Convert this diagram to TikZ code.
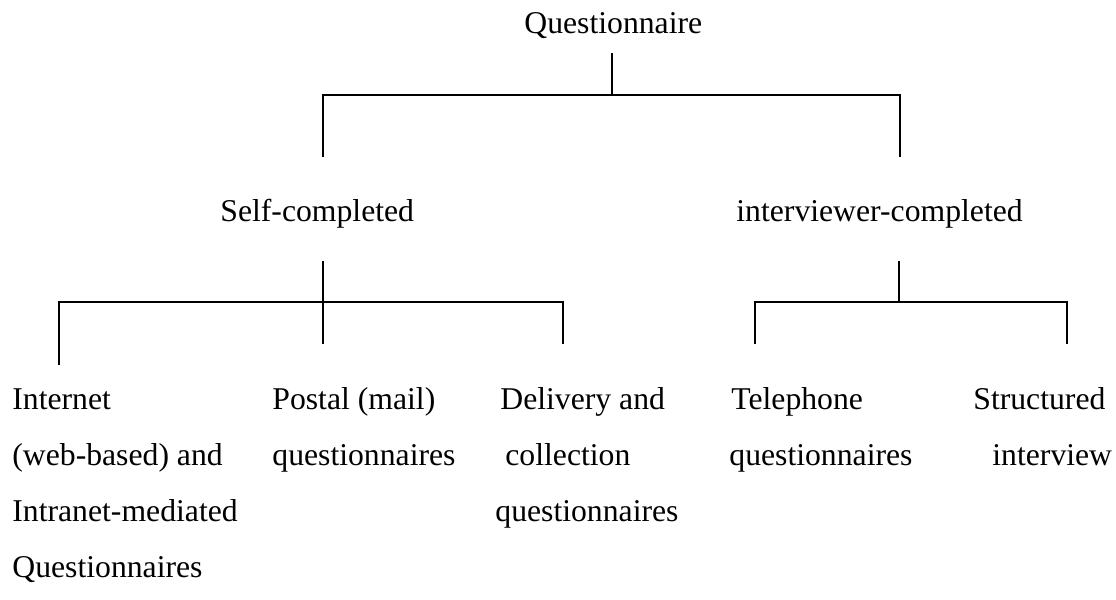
\documentclass[tikz,border=0pt]{standalone}
\usepackage{fontspec}
\setmainfont{Liberation Serif}
\begin{document}
\begin{tikzpicture}[x=0.5pt,y=-0.5pt,
  txt/.style={anchor=base west, inner sep=0pt, font=\fontsize{15.85}{19}\selectfont},
  branch/.style={line width=0.8pt, black}]
\useasboundingbox (0,0) rectangle (1116,600);

% ---- labels ----
\node[txt] (root) at (524,33) {Questionnaire};
\node[txt] (self) at (220,221) {Self-completed};
\node[txt] (intv) at (736,221) {interviewer-completed};

\node[txt] (in1) at (12,409) {Internet};
\node[txt] (in2) at (12,465) {(web-based) and};
\node[txt] (in3) at (12,521) {Intranet-mediated};
\node[txt] (in4) at (12,577) {Questionnaires};

\node[txt] (po1) at (272,409) {Postal (mail)};
\node[txt] (po2) at (272,465) {questionnaires};

\node[txt] (de1) at (500,409) {Delivery and};
\node[txt] (de2) at (505,465) {collection};
\node[txt] (de3) at (495,521) {questionnaires};

\node[txt] (te1) at (731,409) {Telephone};
\node[txt] (te2) at (729,465) {questionnaires};

\node[txt] (st1) at (973,409) {Structured};
\node[txt] (st2) at (992,465) {interview};

% ---- connector points ----
\coordinate (root-stem) at (612,53);
\coordinate (root-bar)  at (612,95);
\coordinate (bar1-l)    at (323,95);
\coordinate (bar1-r)    at (900,95);
\coordinate (sc-top)    at (323,157);
\coordinate (ic-top)    at (900,157);

\coordinate (sc-stem)   at (323,261);
\coordinate (po-top)    at (323,344);
\coordinate (bar2-l)    at (59,302);
\coordinate (bar2-r)    at (563,302);
\coordinate (in-top)    at (59,365);
\coordinate (de-top)    at (563,344);

\coordinate (ic-stem)   at (899,261);
\coordinate (ic-bar)    at (899,302);
\coordinate (bar3-l)    at (755,302);
\coordinate (bar3-r)    at (1067,302);
\coordinate (te-top)    at (755,344);
\coordinate (st-top)    at (1067,344);

% ---- tree lines ----
\draw[branch] (root-stem) -- (root-bar);
\draw[branch] (sc-top) -- (bar1-l) -- (bar1-r) -- (ic-top);

\draw[branch] (sc-stem) -- (po-top);
\draw[branch] (in-top) -- (bar2-l) -- (bar2-r) -- (de-top);

\draw[branch] (ic-stem) -- (ic-bar);
\draw[branch] (te-top) -- (bar3-l) -- (bar3-r) -- (st-top);
\end{tikzpicture}
\end{document}
